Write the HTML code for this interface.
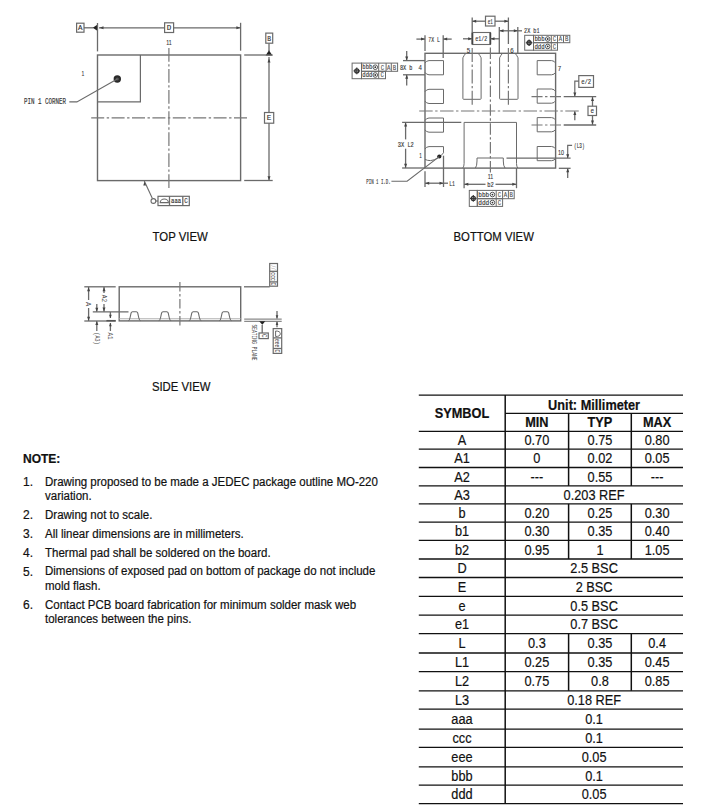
<!DOCTYPE html>
<html><head><meta charset="utf-8"><title>QFN package drawing</title>
<style>
html,body{margin:0;padding:0;background:#fff;}
body{width:701px;height:812px;overflow:hidden;}
svg{display:block;font-family:"Liberation Sans",sans-serif;}
</style></head><body>
<svg width="701" height="812" viewBox="0 0 701 812">
<g font-family="Liberation Sans, sans-serif">
<rect x="97.5" y="55" width="143.10" height="125.60" fill="none" stroke="#6a6a6a" stroke-width="1.4"/>
<path d="M140.4,55 V101.9 H97.5" fill="none" stroke="#6a6a6a" stroke-width="1.2"/>
<circle cx="117.3" cy="79" r="3.7" fill="#2a2a2a"/>
<circle cx="117.3" cy="79" r="1.6" fill="#555"/>
<path d="M117.3,79 L76.9,101.9 H69.3" fill="none" stroke="#6a6a6a" stroke-width="1.1"/>
<text x="45" y="104.01" font-size="8.2" text-anchor="middle" fill="#333" stroke="#333" stroke-width="0.15" font-family="Liberation Mono" font-weight="normal" textLength="42" lengthAdjust="spacingAndGlyphs">PIN 1 CORNER</text>
<text x="82.9" y="76.06" font-size="8" text-anchor="middle" fill="#333" stroke="#333" stroke-width="0.1" font-family="Liberation Sans" font-weight="normal" textLength="2.8" lengthAdjust="spacingAndGlyphs">1</text>
<line x1="91.2" y1="117.9" x2="247" y2="117.9" stroke="#777" stroke-width="1.2" stroke-dasharray="13.00 2.5 2.4 2.5"/>
<line x1="168.9" y1="48" x2="168.9" y2="188" stroke="#777" stroke-width="1.2" stroke-dasharray="13.66 2.5 2.4 2.5"/>
<text x="168.9" y="45.19" font-size="7.5" text-anchor="middle" fill="#333" stroke="#333" stroke-width="0.1" font-family="Liberation Sans" font-weight="normal" textLength="5.5" lengthAdjust="spacingAndGlyphs">11</text>
<rect x="76.6" y="23.2" width="7.40" height="9.00" fill="none" stroke="#6a6a6a" stroke-width="1.2"/>
<text x="80.3" y="30.18" font-size="7.5" text-anchor="middle" fill="#333" stroke="#333" stroke-width="0.15" font-family="Liberation Mono" font-weight="normal" textLength="4.5" lengthAdjust="spacingAndGlyphs">A</text>
<line x1="84" y1="27.8" x2="93.5" y2="27.8" stroke="#6a6a6a" stroke-width="1.3" />
<polygon points="92.8,27.8 97.6,24.6 97.6,31" fill="#222"/>
<line x1="97.5" y1="23" x2="97.5" y2="51.4" stroke="#6a6a6a" stroke-width="1.3" />
<line x1="240.6" y1="22.8" x2="240.6" y2="50.7" stroke="#6a6a6a" stroke-width="1.3" />
<line x1="99" y1="27.8" x2="164.6" y2="27.8" stroke="#6a6a6a" stroke-width="1.3" />
<line x1="173.6" y1="27.8" x2="240.6" y2="27.8" stroke="#6a6a6a" stroke-width="1.3" />
<polygon points="99.50,27.80 103.50,26.30 103.50,29.30" fill="#444"/>
<polygon points="240.40,27.80 236.40,26.30 236.40,29.30" fill="#444"/>
<rect x="164.6" y="22.8" width="9.00" height="9.70" fill="none" stroke="#6a6a6a" stroke-width="1.2"/>
<text x="169.1" y="30.18" font-size="7.5" text-anchor="middle" fill="#333" stroke="#333" stroke-width="0.15" font-family="Liberation Mono" font-weight="normal" textLength="4.5" lengthAdjust="spacingAndGlyphs">D</text>
<rect x="265.8" y="33.1" width="6.90" height="10.10" fill="none" stroke="#6a6a6a" stroke-width="1.2"/>
<text x="269.25" y="40.51" font-size="7.0" text-anchor="middle" fill="#333" stroke="#333" stroke-width="0.15" font-family="Liberation Mono" font-weight="normal" textLength="3.8" lengthAdjust="spacingAndGlyphs">B</text>
<line x1="269" y1="43.2" x2="269" y2="51" stroke="#6a6a6a" stroke-width="1.3" />
<polygon points="269,50.3 265.6,55.4 272.4,55.4" fill="#222"/>
<line x1="244.2" y1="55" x2="272.7" y2="55" stroke="#6a6a6a" stroke-width="1.3" />
<line x1="269" y1="57" x2="269" y2="112.5" stroke="#6a6a6a" stroke-width="1.3" />
<line x1="269" y1="123.2" x2="269" y2="180.5" stroke="#6a6a6a" stroke-width="1.3" />
<polygon points="269.00,58.50 267.50,62.50 270.50,62.50" fill="#444"/>
<polygon points="269.00,180.30 267.50,176.30 270.50,176.30" fill="#444"/>
<rect x="264.5" y="112.5" width="9.20" height="10.70" fill="none" stroke="#6a6a6a" stroke-width="1.2"/>
<text x="269.1" y="120.38" font-size="7.5" text-anchor="middle" fill="#333" stroke="#333" stroke-width="0.15" font-family="Liberation Mono" font-weight="normal" textLength="4.5" lengthAdjust="spacingAndGlyphs">E</text>
<line x1="244.2" y1="180.5" x2="272.7" y2="180.5" stroke="#6a6a6a" stroke-width="1.3" />
<line x1="144.3" y1="181" x2="152.4" y2="198.6" stroke="#6a6a6a" stroke-width="1.1" />
<polygon points="144.60,181.60 143.30,185.60 145.90,185.60" fill="#444"/>
<circle cx="153.4" cy="201" r="2.4" fill="none" stroke="#6a6a6a" stroke-width="1.1"/>
<line x1="155.8" y1="201" x2="158" y2="201" stroke="#6a6a6a" stroke-width="1.1" />
<rect x="158" y="196.3" width="31.30" height="9.30" fill="none" stroke="#6a6a6a" stroke-width="1.2"/>
<line x1="169.5" y1="196.3" x2="169.5" y2="205.6" stroke="#6a6a6a" stroke-width="1.3" />
<line x1="182.8" y1="196.3" x2="182.8" y2="205.6" stroke="#6a6a6a" stroke-width="1.3" />
<path d="M160.2,202.6 A4.1,3.6 0 0 1 168.4,202.6 Z" fill="none" stroke="#6a6a6a" stroke-width="1.1"/>
<text x="176.1" y="203.15" font-size="6.5" text-anchor="middle" fill="#333" stroke="#333" stroke-width="0.15" font-family="Liberation Mono" font-weight="normal" textLength="10" lengthAdjust="spacingAndGlyphs">aaa</text>
<text x="186" y="203.31" font-size="7.0" text-anchor="middle" fill="#333" stroke="#333" stroke-width="0.15" font-family="Liberation Mono" font-weight="normal" textLength="3.5" lengthAdjust="spacingAndGlyphs">C</text>
<rect x="425" y="53.3" width="130.60" height="114.80" fill="none" stroke="#6a6a6a" stroke-width="1.4"/>
<path d="M425,63.00 Q426.2,60.80 429,60.60 H443.5 V74.80 H429 Q426.2,74.60 425,72.40" fill="none" stroke="#6a6a6a" stroke-width="1.0"/>
<path d="M425,91.70 Q426.2,89.50 429,89.30 H443.5 V103.50 H429 Q426.2,103.30 425,101.10" fill="none" stroke="#6a6a6a" stroke-width="1.0"/>
<path d="M425,120.40 Q426.2,118.20 429,118.00 H443.5 V132.20 H429 Q426.2,132.00 425,129.80" fill="none" stroke="#6a6a6a" stroke-width="1.0"/>
<path d="M425,149 Q426.2,146.8 429,146.6 H443.5 V152.8 Q438.5,159.6 430.5,160.6 Q427.2,160.6 425,159.4" fill="none" stroke="#6a6a6a" stroke-width="1.0"/>
<path d="M555.6,63.00 Q554.4,60.80 551.6,60.60 H537.2 V74.80 H551.6 Q554.4,74.60 555.6,72.40" fill="none" stroke="#6a6a6a" stroke-width="1.0"/>
<path d="M555.6,91.40 Q554.4,89.20 551.6,89.00 H537.2 V103.20 H551.6 Q554.4,103.00 555.6,100.80" fill="none" stroke="#6a6a6a" stroke-width="1.0"/>
<path d="M555.6,120.00 Q554.4,117.80 551.6,117.60 H537.2 V131.80 H551.6 Q554.4,131.60 555.6,129.40" fill="none" stroke="#6a6a6a" stroke-width="1.0"/>
<path d="M555.6,148.90 Q554.4,146.70 551.6,146.50 H537.2 V160.70 H551.6 Q554.4,160.50 555.6,158.30" fill="none" stroke="#6a6a6a" stroke-width="1.0"/>
<path d="M465.80,53.3 Q464.10,55.2 462.90,57.8 V98.5 Q462.90,99.3 463.70,99.3 H480.30 Q481.10,99.3 481.10,98.5 V57.8 Q479.90,55.2 478.20,53.3" fill="none" stroke="#6a6a6a" stroke-width="1.0"/>
<path d="M502.50,53.3 Q500.80,55.2 499.60,57.8 V98.5 Q499.60,99.3 500.40,99.3 H517.20 Q518.00,99.3 518.00,98.5 V57.8 Q516.80,55.2 515.10,53.3" fill="none" stroke="#6a6a6a" stroke-width="1.0"/>
<path d="M462.8,168 Q464.1,166.5 464.1,163.5 V122.4 H516.5 V163.5 Q516.5,166.5 517.8,168" fill="none" stroke="#6a6a6a" stroke-width="1.0"/>
<path d="M475.4,168 Q477,166 477,161 V158 H503.3 V161 Q503.3,166 505,168" fill="none" stroke="#6a6a6a" stroke-width="1.0"/>
<line x1="419.2" y1="111" x2="578.8" y2="111" stroke="#777" stroke-width="1.2" stroke-dasharray="13.47 2.5 2.4 2.5"/>
<line x1="490.4" y1="47.6" x2="490.4" y2="172.5" stroke="#777" stroke-width="1.2" stroke-dasharray="11.50 2.5 2.4 2.5"/>
<line x1="472.2" y1="48" x2="472.2" y2="104.8" stroke="#777" stroke-width="1.2" stroke-dasharray="14.00 2.5 2.4 2.5"/>
<line x1="508.4" y1="48" x2="508.4" y2="104.8" stroke="#777" stroke-width="1.2" stroke-dasharray="14.00 2.5 2.4 2.5"/>
<line x1="531.5" y1="96.6" x2="561" y2="96.6" stroke="#777" stroke-width="1.2" stroke-dasharray="11.05 2.5 2.4 2.5"/>
<line x1="563.7" y1="96.6" x2="596.2" y2="96.6" stroke="#6a6a6a" stroke-width="1.3" />
<line x1="531.5" y1="125" x2="561" y2="125" stroke="#777" stroke-width="1.2" stroke-dasharray="11.05 2.5 2.4 2.5"/>
<line x1="563.7" y1="125" x2="596.2" y2="125" stroke="#6a6a6a" stroke-width="1.3" />
<line x1="425" y1="35.2" x2="425" y2="51" stroke="#6a6a6a" stroke-width="1.3" />
<line x1="443.2" y1="35.2" x2="443.2" y2="58" stroke="#6a6a6a" stroke-width="1.3" />
<line x1="416.4" y1="39.1" x2="425" y2="39.1" stroke="#6a6a6a" stroke-width="1.3" />
<polygon points="425.00,39.10 421.00,37.60 421.00,40.60" fill="#444"/>
<line x1="443.2" y1="39.1" x2="451.7" y2="39.1" stroke="#6a6a6a" stroke-width="1.3" />
<polygon points="443.20,39.10 447.20,37.60 447.20,40.60" fill="#444"/>
<text x="434.1" y="41.58" font-size="7.5" text-anchor="middle" fill="#333" stroke="#333" stroke-width="0.15" font-family="Liberation Mono" font-weight="normal" textLength="11.5" lengthAdjust="spacingAndGlyphs">7X&#160;L</text>
<line x1="403" y1="60.6" x2="425" y2="60.6" stroke="#6a6a6a" stroke-width="1.3" />
<line x1="403" y1="74.8" x2="425" y2="74.8" stroke="#6a6a6a" stroke-width="1.3" />
<line x1="406.7" y1="50.9" x2="406.7" y2="60.6" stroke="#6a6a6a" stroke-width="1.3" />
<polygon points="406.70,60.60 405.20,56.60 408.20,56.60" fill="#444"/>
<line x1="406.7" y1="85.4" x2="406.7" y2="74.8" stroke="#6a6a6a" stroke-width="1.3" />
<polygon points="406.70,74.80 405.20,78.80 408.20,78.80" fill="#444"/>
<text x="400" y="70.17" font-size="7.5" text-anchor="start" fill="#333" stroke="#333" stroke-width="0.15" font-family="Liberation Mono" font-weight="normal" textLength="12.5" lengthAdjust="spacingAndGlyphs">8X&#160;b</text>
<text x="420.3" y="70.39" font-size="7.5" text-anchor="middle" fill="#333" stroke="#333" stroke-width="0.1" font-family="Liberation Sans" font-weight="normal" textLength="3.4" lengthAdjust="spacingAndGlyphs">4</text>
<rect x="352.1" y="63.1" width="9.40" height="15.60" fill="none" stroke="#6a6a6a" stroke-width="1.0"/>
<circle cx="356.80" cy="70.90" r="2.0" fill="none" stroke="#333" stroke-width="1.3"/>
<line x1="353.5" y1="70.9" x2="360.1" y2="70.9" stroke="#333" stroke-width="1.1" />
<line x1="356.8" y1="67.60000000000001" x2="356.8" y2="74.2" stroke="#333" stroke-width="1.1" />
<rect x="361.5" y="63.1" width="36.10" height="8.20" fill="none" stroke="#6a6a6a" stroke-width="1.0"/>
<line x1="378.7" y1="63.1" x2="378.7" y2="71.3" stroke="#6a6a6a" stroke-width="1.0" />
<line x1="386.1" y1="63.1" x2="386.1" y2="71.3" stroke="#6a6a6a" stroke-width="1.0" />
<line x1="391.3" y1="63.1" x2="391.3" y2="71.3" stroke="#6a6a6a" stroke-width="1.0" />
<text x="367.348" y="69.34" font-size="6.5" text-anchor="middle" fill="#333" stroke="#333" stroke-width="0.15" font-family="Liberation Mono" font-weight="normal" textLength="9.975999999999992" lengthAdjust="spacingAndGlyphs">bbb</text>
<circle cx="375.26" cy="67.20" r="2.3" fill="none" stroke="#555" stroke-width="1.0"/>
<circle cx="375.26" cy="67.20" r="0.9" fill="#333"/>
<text x="382.4" y="69.51" font-size="7" text-anchor="middle" fill="#555" stroke="#555" stroke-width="0.15" font-family="Liberation Mono" font-weight="normal" textLength="3.4" lengthAdjust="spacingAndGlyphs">C</text>
<text x="388.70000000000005" y="69.51" font-size="7" text-anchor="middle" fill="#555" stroke="#555" stroke-width="0.15" font-family="Liberation Mono" font-weight="normal" textLength="3.4" lengthAdjust="spacingAndGlyphs">A</text>
<text x="394.45000000000005" y="69.51" font-size="7" text-anchor="middle" fill="#555" stroke="#555" stroke-width="0.15" font-family="Liberation Mono" font-weight="normal" textLength="3.4" lengthAdjust="spacingAndGlyphs">B</text>
<rect x="361.5" y="71.3" width="24.00" height="7.40" fill="none" stroke="#6a6a6a" stroke-width="1.0"/>
<line x1="378.7" y1="71.3" x2="378.7" y2="78.7" stroke="#6a6a6a" stroke-width="1.0" />
<text x="367.348" y="77.14" font-size="6.5" text-anchor="middle" fill="#333" stroke="#333" stroke-width="0.15" font-family="Liberation Mono" font-weight="normal" textLength="9.975999999999992" lengthAdjust="spacingAndGlyphs">ddd</text>
<circle cx="375.26" cy="75.00" r="2.3" fill="none" stroke="#555" stroke-width="1.0"/>
<circle cx="375.26" cy="75.00" r="0.9" fill="#333"/>
<text x="382.1" y="77.31" font-size="7" text-anchor="middle" fill="#555" stroke="#555" stroke-width="0.15" font-family="Liberation Mono" font-weight="normal" textLength="3.4" lengthAdjust="spacingAndGlyphs">C</text>
<rect x="524.7" y="35.3" width="8.80" height="14.90" fill="none" stroke="#6a6a6a" stroke-width="1.0"/>
<circle cx="529.10" cy="42.75" r="2.0" fill="none" stroke="#333" stroke-width="1.3"/>
<line x1="525.8000000000001" y1="42.75" x2="532.4" y2="42.75" stroke="#333" stroke-width="1.1" />
<line x1="529.1" y1="39.45" x2="529.1" y2="46.05" stroke="#333" stroke-width="1.1" />
<rect x="533.5" y="35.3" width="36.30" height="7.40" fill="none" stroke="#6a6a6a" stroke-width="1.0"/>
<line x1="551.3" y1="35.3" x2="551.3" y2="42.7" stroke="#6a6a6a" stroke-width="1.0" />
<line x1="557.5" y1="35.3" x2="557.5" y2="42.7" stroke="#6a6a6a" stroke-width="1.0" />
<line x1="563.5" y1="35.3" x2="563.5" y2="42.7" stroke="#6a6a6a" stroke-width="1.0" />
<text x="539.552" y="41.15" font-size="6.5" text-anchor="middle" fill="#333" stroke="#333" stroke-width="0.15" font-family="Liberation Mono" font-weight="normal" textLength="10.323999999999973" lengthAdjust="spacingAndGlyphs">bbb</text>
<circle cx="547.74" cy="39.00" r="2.3" fill="none" stroke="#555" stroke-width="1.0"/>
<circle cx="547.74" cy="39.00" r="0.9" fill="#333"/>
<text x="554.4" y="41.31" font-size="7" text-anchor="middle" fill="#555" stroke="#555" stroke-width="0.15" font-family="Liberation Mono" font-weight="normal" textLength="3.4" lengthAdjust="spacingAndGlyphs">C</text>
<text x="560.5" y="41.31" font-size="7" text-anchor="middle" fill="#555" stroke="#555" stroke-width="0.15" font-family="Liberation Mono" font-weight="normal" textLength="3.4" lengthAdjust="spacingAndGlyphs">A</text>
<text x="566.65" y="41.31" font-size="7" text-anchor="middle" fill="#555" stroke="#555" stroke-width="0.15" font-family="Liberation Mono" font-weight="normal" textLength="3.4" lengthAdjust="spacingAndGlyphs">B</text>
<rect x="533.5" y="42.7" width="24.00" height="7.50" fill="none" stroke="#6a6a6a" stroke-width="1.0"/>
<line x1="551.3" y1="42.7" x2="551.3" y2="50.2" stroke="#6a6a6a" stroke-width="1.0" />
<text x="539.552" y="48.60" font-size="6.5" text-anchor="middle" fill="#333" stroke="#333" stroke-width="0.15" font-family="Liberation Mono" font-weight="normal" textLength="10.323999999999973" lengthAdjust="spacingAndGlyphs">ddd</text>
<circle cx="547.74" cy="46.45" r="2.3" fill="none" stroke="#555" stroke-width="1.0"/>
<circle cx="547.74" cy="46.45" r="0.9" fill="#333"/>
<text x="554.4" y="48.76" font-size="7" text-anchor="middle" fill="#555" stroke="#555" stroke-width="0.15" font-family="Liberation Mono" font-weight="normal" textLength="3.4" lengthAdjust="spacingAndGlyphs">C</text>
<rect x="469.3" y="190.4" width="8.00" height="16.00" fill="none" stroke="#6a6a6a" stroke-width="1.0"/>
<circle cx="473.30" cy="198.40" r="2.0" fill="none" stroke="#333" stroke-width="1.3"/>
<line x1="470.0" y1="198.4" x2="476.6" y2="198.4" stroke="#333" stroke-width="1.1" />
<line x1="473.3" y1="195.1" x2="473.3" y2="201.70000000000002" stroke="#333" stroke-width="1.1" />
<rect x="477.3" y="190.4" width="36.90" height="8.30" fill="none" stroke="#6a6a6a" stroke-width="1.0"/>
<line x1="496.2" y1="190.4" x2="496.2" y2="198.7" stroke="#6a6a6a" stroke-width="1.0" />
<line x1="502.6" y1="190.4" x2="502.6" y2="198.7" stroke="#6a6a6a" stroke-width="1.0" />
<line x1="508.4" y1="190.4" x2="508.4" y2="198.7" stroke="#6a6a6a" stroke-width="1.0" />
<text x="483.726" y="196.70" font-size="6.5" text-anchor="middle" fill="#333" stroke="#333" stroke-width="0.15" font-family="Liberation Mono" font-weight="normal" textLength="10.961999999999986" lengthAdjust="spacingAndGlyphs">bbb</text>
<circle cx="492.42" cy="194.55" r="2.3" fill="none" stroke="#555" stroke-width="1.0"/>
<circle cx="492.42" cy="194.55" r="0.9" fill="#333"/>
<text x="499.4" y="196.86" font-size="7" text-anchor="middle" fill="#555" stroke="#555" stroke-width="0.15" font-family="Liberation Mono" font-weight="normal" textLength="3.4" lengthAdjust="spacingAndGlyphs">C</text>
<text x="505.5" y="196.86" font-size="7" text-anchor="middle" fill="#555" stroke="#555" stroke-width="0.15" font-family="Liberation Mono" font-weight="normal" textLength="3.4" lengthAdjust="spacingAndGlyphs">A</text>
<text x="511.3" y="196.86" font-size="7" text-anchor="middle" fill="#555" stroke="#555" stroke-width="0.15" font-family="Liberation Mono" font-weight="normal" textLength="3.4" lengthAdjust="spacingAndGlyphs">B</text>
<rect x="477.3" y="198.7" width="25.30" height="7.70" fill="none" stroke="#6a6a6a" stroke-width="1.0"/>
<line x1="496.2" y1="198.7" x2="496.2" y2="206.4" stroke="#6a6a6a" stroke-width="1.0" />
<text x="483.726" y="204.70" font-size="6.5" text-anchor="middle" fill="#333" stroke="#333" stroke-width="0.15" font-family="Liberation Mono" font-weight="normal" textLength="10.961999999999986" lengthAdjust="spacingAndGlyphs">ddd</text>
<circle cx="492.42" cy="202.55" r="2.3" fill="none" stroke="#555" stroke-width="1.0"/>
<circle cx="492.42" cy="202.55" r="0.9" fill="#333"/>
<text x="499.4" y="204.86" font-size="7" text-anchor="middle" fill="#555" stroke="#555" stroke-width="0.15" font-family="Liberation Mono" font-weight="normal" textLength="3.4" lengthAdjust="spacingAndGlyphs">C</text>
<line x1="472.2" y1="17.5" x2="472.2" y2="32.5" stroke="#6a6a6a" stroke-width="1.3" />
<line x1="508.4" y1="17.5" x2="508.4" y2="44" stroke="#6a6a6a" stroke-width="1.3" />
<line x1="472.2" y1="21.2" x2="485.5" y2="21.2" stroke="#6a6a6a" stroke-width="1.3" />
<line x1="495" y1="21.2" x2="508.4" y2="21.2" stroke="#6a6a6a" stroke-width="1.3" />
<polygon points="472.20,21.20 476.20,19.70 476.20,22.70" fill="#444"/>
<polygon points="508.40,21.20 504.40,19.70 504.40,22.70" fill="#444"/>
<rect x="485.5" y="16.2" width="9.50" height="9.80" fill="none" stroke="#6a6a6a" stroke-width="1.2"/>
<text x="490.25" y="23.58" font-size="7.5" text-anchor="middle" fill="#333" stroke="#333" stroke-width="0.15" font-family="Liberation Mono" font-weight="normal" textLength="5" lengthAdjust="spacingAndGlyphs">e1</text>
<rect x="472.2" y="32.5" width="18.30" height="12.00" fill="none" stroke="#6a6a6a" stroke-width="1.1"/>
<line x1="472.4" y1="32.8" x2="472.4" y2="44.2" stroke="#444" stroke-width="1.8" />
<line x1="490.3" y1="32.8" x2="490.3" y2="44.2" stroke="#444" stroke-width="1.8" />
<text x="481.3" y="41.08" font-size="7.5" text-anchor="middle" fill="#333" stroke="#333" stroke-width="0.15" font-family="Liberation Mono" font-weight="normal" textLength="12" lengthAdjust="spacingAndGlyphs">e1/2</text>
<line x1="463" y1="38.8" x2="472.2" y2="38.8" stroke="#6a6a6a" stroke-width="1.3" />
<polygon points="472.20,38.80 468.20,37.30 468.20,40.30" fill="#444"/>
<line x1="490.5" y1="38.8" x2="499.5" y2="38.8" stroke="#6a6a6a" stroke-width="1.3" />
<polygon points="490.50,38.80 494.50,37.30 494.50,40.30" fill="#444"/>
<line x1="499.3" y1="27" x2="499.3" y2="53.3" stroke="#6a6a6a" stroke-width="1.3" />
<line x1="517.8" y1="27" x2="517.8" y2="53.3" stroke="#6a6a6a" stroke-width="1.3" />
<line x1="499.3" y1="30.8" x2="522" y2="30.8" stroke="#6a6a6a" stroke-width="1.3" />
<polygon points="499.50,30.80 503.50,29.30 503.50,32.30" fill="#444"/>
<polygon points="517.80,30.80 513.80,29.30 513.80,32.30" fill="#444"/>
<text x="524.1" y="33.48" font-size="7.5" text-anchor="start" fill="#333" stroke="#333" stroke-width="0.15" font-family="Liberation Mono" font-weight="normal" textLength="15.4" lengthAdjust="spacingAndGlyphs">2X&#160;b1</text>
<text x="468.5" y="52.69" font-size="7.5" text-anchor="middle" fill="#333" stroke="#333" stroke-width="0.1" font-family="Liberation Sans" font-weight="normal" textLength="3.4" lengthAdjust="spacingAndGlyphs">5</text>
<text x="512" y="52.69" font-size="7.5" text-anchor="middle" fill="#333" stroke="#333" stroke-width="0.1" font-family="Liberation Sans" font-weight="normal" textLength="3.4" lengthAdjust="spacingAndGlyphs">6</text>
<text x="559.5" y="71.28" font-size="7.5" text-anchor="middle" fill="#333" stroke="#333" stroke-width="0.1" font-family="Liberation Sans" font-weight="normal" textLength="3.4" lengthAdjust="spacingAndGlyphs">7</text>
<text x="561" y="155.09" font-size="7.5" text-anchor="middle" fill="#333" stroke="#333" stroke-width="0.1" font-family="Liberation Sans" font-weight="normal" textLength="6" lengthAdjust="spacingAndGlyphs">10</text>
<text x="420.6" y="157.59" font-size="7.5" text-anchor="middle" fill="#333" stroke="#333" stroke-width="0.1" font-family="Liberation Sans" font-weight="normal" textLength="2.6" lengthAdjust="spacingAndGlyphs">1</text>
<text x="490.4" y="179.28" font-size="7.5" text-anchor="middle" fill="#333" stroke="#333" stroke-width="0.1" font-family="Liberation Sans" font-weight="normal" textLength="5.5" lengthAdjust="spacingAndGlyphs">11</text>
<rect x="578.8" y="75.6" width="14.70" height="11.80" fill="none" stroke="#6a6a6a" stroke-width="1.2"/>
<text x="586.15" y="83.97" font-size="7.5" text-anchor="middle" fill="#333" stroke="#333" stroke-width="0.15" font-family="Liberation Mono" font-weight="normal" textLength="10" lengthAdjust="spacingAndGlyphs">e/2</text>
<path d="M578.8,81.2 H574.8 V96.4" fill="none" stroke="#6a6a6a" stroke-width="1.2"/>
<polygon points="574.80,96.60 573.30,92.60 576.30,92.60" fill="#444"/>
<line x1="574.8" y1="120.2" x2="574.8" y2="111.5" stroke="#6a6a6a" stroke-width="1.3" />
<polygon points="574.80,111.10 573.30,115.10 576.30,115.10" fill="#444"/>
<line x1="592.5" y1="96.6" x2="592.5" y2="106.2" stroke="#6a6a6a" stroke-width="1.3" />
<line x1="592.5" y1="115.5" x2="592.5" y2="125" stroke="#6a6a6a" stroke-width="1.3" />
<polygon points="592.50,97.00 591.00,101.00 594.00,101.00" fill="#444"/>
<polygon points="592.50,124.60 591.00,120.60 594.00,120.60" fill="#444"/>
<rect x="588" y="106.2" width="8.50" height="9.30" fill="none" stroke="#6a6a6a" stroke-width="1.2"/>
<text x="592.25" y="113.38" font-size="7.5" text-anchor="middle" fill="#333" stroke="#333" stroke-width="0.15" font-family="Liberation Mono" font-weight="normal" textLength="3.5" lengthAdjust="spacingAndGlyphs">e</text>
<line x1="506.5" y1="158.2" x2="570.6" y2="158.2" stroke="#6a6a6a" stroke-width="1.3" />
<path d="M572.1,145.4 H567.7 V158" fill="none" stroke="#6a6a6a" stroke-width="1.2"/>
<polygon points="567.70,158.20 566.20,154.20 569.20,154.20" fill="#444"/>
<text x="579.3" y="147.67" font-size="7.5" text-anchor="middle" fill="#333" stroke="#333" stroke-width="0.15" font-family="Liberation Mono" font-weight="normal" textLength="10.5" lengthAdjust="spacingAndGlyphs">(L3)</text>
<line x1="558.8" y1="168.3" x2="570.6" y2="168.3" stroke="#6a6a6a" stroke-width="1.3" />
<line x1="567.7" y1="177.9" x2="567.7" y2="168.5" stroke="#6a6a6a" stroke-width="1.3" />
<polygon points="567.70,168.30 566.20,172.30 569.20,172.30" fill="#444"/>
<line x1="402.1" y1="122.4" x2="461.3" y2="122.4" stroke="#6a6a6a" stroke-width="1.3" />
<line x1="402.1" y1="168" x2="425" y2="168" stroke="#6a6a6a" stroke-width="1.3" />
<line x1="405.6" y1="122.4" x2="405.6" y2="139.4" stroke="#6a6a6a" stroke-width="1.3" />
<line x1="405.6" y1="148.7" x2="405.6" y2="168" stroke="#6a6a6a" stroke-width="1.3" />
<polygon points="405.60,122.60 404.10,126.60 407.10,126.60" fill="#444"/>
<polygon points="405.60,167.80 404.10,163.80 407.10,163.80" fill="#444"/>
<text x="405.8" y="147.17" font-size="7.5" text-anchor="middle" fill="#333" stroke="#333" stroke-width="0.15" font-family="Liberation Mono" font-weight="normal" textLength="16" lengthAdjust="spacingAndGlyphs">3X&#160;L2</text>
<circle cx="439.3" cy="156.5" r="2.1" fill="#222"/>
<path d="M439.2,156.6 L407.1,181.3 H391.4" fill="none" stroke="#6a6a6a" stroke-width="1.1"/>
<text x="378.5" y="184.07" font-size="7.5" text-anchor="middle" fill="#333" stroke="#333" stroke-width="0.15" font-family="Liberation Mono" font-weight="normal" textLength="24.3" lengthAdjust="spacingAndGlyphs">PIN 1 I.D.</text>
<line x1="425" y1="171.3" x2="425" y2="187" stroke="#6a6a6a" stroke-width="1.3" />
<line x1="443.5" y1="155.7" x2="443.5" y2="187" stroke="#6a6a6a" stroke-width="1.3" />
<line x1="425" y1="183.2" x2="448" y2="183.2" stroke="#6a6a6a" stroke-width="1.3" />
<polygon points="425.20,183.20 429.20,181.70 429.20,184.70" fill="#444"/>
<polygon points="443.50,183.20 439.50,181.70 439.50,184.70" fill="#444"/>
<text x="452" y="185.67" font-size="7.5" text-anchor="middle" fill="#333" stroke="#333" stroke-width="0.15" font-family="Liberation Mono" font-weight="normal" textLength="5.7" lengthAdjust="spacingAndGlyphs">L1</text>
<line x1="464.1" y1="168" x2="464.1" y2="188.2" stroke="#6a6a6a" stroke-width="1.3" />
<line x1="516.5" y1="168" x2="516.5" y2="188.2" stroke="#6a6a6a" stroke-width="1.3" />
<line x1="464.1" y1="184.3" x2="485.5" y2="184.3" stroke="#6a6a6a" stroke-width="1.3" />
<line x1="495.5" y1="184.3" x2="516.5" y2="184.3" stroke="#6a6a6a" stroke-width="1.3" />
<polygon points="464.30,184.30 468.30,182.80 468.30,185.80" fill="#444"/>
<polygon points="516.30,184.30 512.30,182.80 512.30,185.80" fill="#444"/>
<text x="490.45" y="186.78" font-size="7.5" text-anchor="middle" fill="#333" stroke="#333" stroke-width="0.15" font-family="Liberation Mono" font-weight="normal" textLength="6.5" lengthAdjust="spacingAndGlyphs">b2</text>
<rect x="119.2" y="286.8" width="121.50" height="34.10" fill="none" stroke="#6a6a6a" stroke-width="1.4"/>
<line x1="119.2" y1="318.7" x2="240.7" y2="318.7" stroke="#b0b0b0" stroke-width="1.1" />
<path d="M128.20,320.8 Q129.50,320.6 130.10,317.5 L131.10,313 Q131.50,311.8 132.50,311.8 H136.30 Q137.30,311.8 137.70,313 L138.70,317.5 Q139.30,320.6 140.60,320.8" fill="none" stroke="#6a6a6a" stroke-width="1.1"/>
<path d="M158.70,320.8 Q160.00,320.6 160.60,317.5 L161.60,313 Q162.00,311.8 163.00,311.8 H166.80 Q167.80,311.8 168.20,313 L169.20,317.5 Q169.80,320.6 171.10,320.8" fill="none" stroke="#6a6a6a" stroke-width="1.1"/>
<path d="M188.90,320.8 Q190.20,320.6 190.80,317.5 L191.80,313 Q192.20,311.8 193.20,311.8 H197.00 Q198.00,311.8 198.40,313 L199.40,317.5 Q200.00,320.6 201.30,320.8" fill="none" stroke="#6a6a6a" stroke-width="1.1"/>
<path d="M219.20,320.8 Q220.50,320.6 221.10,317.5 L222.10,313 Q222.50,311.8 223.50,311.8 H227.30 Q228.30,311.8 228.70,313 L229.70,317.5 Q230.30,320.6 231.60,320.8" fill="none" stroke="#6a6a6a" stroke-width="1.1"/>
<line x1="179.9" y1="282" x2="179.9" y2="325.6" stroke="#777" stroke-width="1.2" stroke-dasharray="9.60 2.5 2.4 2.5"/>
<line x1="84.3" y1="286.8" x2="115.7" y2="286.8" stroke="#6a6a6a" stroke-width="1.3" />
<line x1="84.3" y1="321" x2="115.7" y2="321" stroke="#6a6a6a" stroke-width="1.3" />
<line x1="92.8" y1="311.8" x2="128.5" y2="311.8" stroke="#6a6a6a" stroke-width="1.3" />
<line x1="88.6" y1="287" x2="88.6" y2="300" stroke="#6a6a6a" stroke-width="1.3" />
<line x1="88.6" y1="308" x2="88.6" y2="321" stroke="#6a6a6a" stroke-width="1.3" />
<polygon points="88.60,287.20 87.10,291.20 90.10,291.20" fill="#444"/>
<polygon points="88.60,320.80 87.10,316.80 90.10,316.80" fill="#444"/>
<text x="88.6" y="306.31" font-size="7.0" text-anchor="middle" fill="#4a4a4a" stroke="#4a4a4a" stroke-width="0" font-family="Liberation Mono" font-weight="normal" textLength="4.2" lengthAdjust="spacingAndGlyphs" transform="rotate(90 88.6 304)">A</text>
<line x1="104" y1="287" x2="104" y2="293" stroke="#6a6a6a" stroke-width="1.3" />
<line x1="104" y1="304" x2="104" y2="311.8" stroke="#6a6a6a" stroke-width="1.3" />
<polygon points="104.00,287.20 102.50,291.20 105.50,291.20" fill="#444"/>
<polygon points="104.00,311.60 102.50,307.60 105.50,307.60" fill="#444"/>
<text x="104" y="300.81" font-size="7.0" text-anchor="middle" fill="#4a4a4a" stroke="#4a4a4a" stroke-width="0" font-family="Liberation Mono" font-weight="normal" textLength="7.5" lengthAdjust="spacingAndGlyphs" transform="rotate(90 104 298.5)">A2</text>
<line x1="96.8" y1="304" x2="96.8" y2="311.6" stroke="#6a6a6a" stroke-width="1.3" />
<polygon points="96.80,311.80 95.30,307.80 98.30,307.80" fill="#444"/>
<line x1="96.8" y1="331" x2="96.8" y2="321.2" stroke="#6a6a6a" stroke-width="1.3" />
<polygon points="96.80,321.00 95.30,325.00 98.30,325.00" fill="#444"/>
<text x="96.8" y="340.81" font-size="7.0" text-anchor="middle" fill="#4a4a4a" stroke="#4a4a4a" stroke-width="0" font-family="Liberation Mono" font-weight="normal" textLength="12" lengthAdjust="spacingAndGlyphs" transform="rotate(90 96.8 338.5)">(A3)</text>
<line x1="110.4" y1="312" x2="110.4" y2="318" stroke="#6a6a6a" stroke-width="1.3" />
<polygon points="110.40,318.30 109.10,314.80 111.70,314.80" fill="#444"/>
<line x1="110.4" y1="331" x2="110.4" y2="323" stroke="#6a6a6a" stroke-width="1.3" />
<polygon points="110.40,322.80 109.10,326.30 111.70,326.30" fill="#444"/>
<line x1="106.4" y1="320.7" x2="115.7" y2="320.7" stroke="#555" stroke-width="1.5" />
<text x="110.4" y="338.31" font-size="7.0" text-anchor="middle" fill="#4a4a4a" stroke="#4a4a4a" stroke-width="0" font-family="Liberation Mono" font-weight="normal" textLength="7" lengthAdjust="spacingAndGlyphs" transform="rotate(90 110.4 336)">A1</text>
<line x1="244" y1="286.8" x2="269.7" y2="286.8" stroke="#6a6a6a" stroke-width="1.3" />
<rect x="269.7" y="263.5" width="7.80" height="22.70" fill="none" stroke="#6a6a6a" stroke-width="1.2"/>
<line x1="269.7" y1="271.3" x2="277.5" y2="271.3" stroke="#6a6a6a" stroke-width="1.3" />
<line x1="269.7" y1="281.9" x2="277.5" y2="281.9" stroke="#6a6a6a" stroke-width="1.3" />
<text x="273.6" y="269.54" font-size="6.5" text-anchor="middle" fill="#4a4a4a" stroke="#4a4a4a" stroke-width="0" font-family="Liberation Mono" font-weight="normal" textLength="4.5" lengthAdjust="spacingAndGlyphs" transform="rotate(90 273.6 267.4)">//</text>
<text x="273.6" y="278.75" font-size="6.5" text-anchor="middle" fill="#4a4a4a" stroke="#4a4a4a" stroke-width="0" font-family="Liberation Mono" font-weight="normal" textLength="8.5" lengthAdjust="spacingAndGlyphs" transform="rotate(90 273.6 276.6)">ccc</text>
<text x="273.6" y="286.14" font-size="6.5" text-anchor="middle" fill="#4a4a4a" stroke="#4a4a4a" stroke-width="0" font-family="Liberation Mono" font-weight="normal" textLength="3" lengthAdjust="spacingAndGlyphs" transform="rotate(90 273.6 284)">C</text>
<line x1="244.2" y1="319.1" x2="281.7" y2="319.1" stroke="#8a8a8a" stroke-width="1.3" />
<line x1="244.2" y1="321.3" x2="281.7" y2="321.3" stroke="#8a8a8a" stroke-width="1.3" />
<polygon points="259.2,321.3 265.3,321.3 262.3,324.8" fill="#222"/>
<line x1="262.2" y1="325" x2="262.2" y2="333" stroke="#6a6a6a" stroke-width="1.3" />
<rect x="259" y="333" width="9.30" height="5.60" fill="none" stroke="#6a6a6a" stroke-width="1.2"/>
<text x="263.65" y="337.94" font-size="6.5" text-anchor="middle" fill="#4a4a4a" stroke="#4a4a4a" stroke-width="0" font-family="Liberation Mono" font-weight="normal" textLength="3.5" lengthAdjust="spacingAndGlyphs" transform="rotate(90 263.65 335.8)">C</text>
<text x="254.1" y="344.81" font-size="7.0" text-anchor="middle" fill="#4a4a4a" stroke="#4a4a4a" stroke-width="0" font-family="Liberation Mono" font-weight="normal" textLength="36" lengthAdjust="spacingAndGlyphs" transform="rotate(90 254.1 342.5)">SEATING PLANE</text>
<line x1="277" y1="311" x2="277" y2="318.5" stroke="#6a6a6a" stroke-width="1.3" />
<polygon points="277.00,318.70 275.70,315.20 278.30,315.20" fill="#444"/>
<line x1="277" y1="327.2" x2="277" y2="321.8" stroke="#6a6a6a" stroke-width="1.3" />
<polygon points="277.00,321.60 275.70,325.10 278.30,325.10" fill="#444"/>
<rect x="273.2" y="328.6" width="8.50" height="24.80" fill="none" stroke="#6a6a6a" stroke-width="1.2"/>
<line x1="273.2" y1="337.9" x2="281.7" y2="337.9" stroke="#6a6a6a" stroke-width="1.3" />
<line x1="273.2" y1="348.5" x2="281.7" y2="348.5" stroke="#6a6a6a" stroke-width="1.3" />
<path d="M275.6,331 V336.5 A4.7,2.75 0 0 0 275.6,331 Z" fill="none" stroke="#6a6a6a" stroke-width="1.0"/>
<text x="277.45" y="345.34" font-size="6.5" text-anchor="middle" fill="#4a4a4a" stroke="#4a4a4a" stroke-width="0" font-family="Liberation Mono" font-weight="normal" textLength="8.5" lengthAdjust="spacingAndGlyphs" transform="rotate(90 277.45 343.2)">eee</text>
<text x="277.45" y="353.14" font-size="6.5" text-anchor="middle" fill="#4a4a4a" stroke="#4a4a4a" stroke-width="0" font-family="Liberation Mono" font-weight="normal" textLength="3" lengthAdjust="spacingAndGlyphs" transform="rotate(90 277.45 351)">C</text>
</g>
<g font-family="Liberation Sans, sans-serif">
<text x="180.2" y="240.9" font-size="12.3" text-anchor="middle" font-weight="normal" fill="#111" stroke="#111" stroke-width="0.2" textLength="55.3" lengthAdjust="spacingAndGlyphs">TOP VIEW</text>
<text x="493.7" y="240.9" font-size="12.3" text-anchor="middle" font-weight="normal" fill="#111" stroke="#111" stroke-width="0.2" textLength="80.3" lengthAdjust="spacingAndGlyphs">BOTTOM VIEW</text>
<text x="181.2" y="390.5" font-size="12.3" text-anchor="middle" font-weight="normal" fill="#111" stroke="#111" stroke-width="0.2" textLength="58.6" lengthAdjust="spacingAndGlyphs">SIDE VIEW</text>
<text x="23" y="463.3" font-size="12" text-anchor="start" font-weight="bold" fill="#111" stroke="#111" stroke-width="0.2">NOTE:</text>
<text x="23" y="486.0" font-size="12" text-anchor="start" font-weight="normal" fill="#111" stroke="#111" stroke-width="0.2">1.</text>
<g transform="matrix(0.958,0,0,1,1.890,0)">
<text x="45.0" y="486.0" font-size="12" text-anchor="start" font-weight="normal" fill="#111" stroke="#111" stroke-width="0.2">Drawing proposed to be made a JEDEC package outline MO-220</text>
</g>
<g transform="matrix(0.958,0,0,1,1.890,0)">
<text x="45.0" y="500.2" font-size="12" text-anchor="start" font-weight="normal" fill="#111" stroke="#111" stroke-width="0.2">variation.</text>
</g>
<text x="23" y="519.2" font-size="12" text-anchor="start" font-weight="normal" fill="#111" stroke="#111" stroke-width="0.2">2.</text>
<g transform="matrix(0.958,0,0,1,1.890,0)">
<text x="45.0" y="519.2" font-size="12" text-anchor="start" font-weight="normal" fill="#111" stroke="#111" stroke-width="0.2">Drawing not to scale.</text>
</g>
<text x="23" y="538.2" font-size="12" text-anchor="start" font-weight="normal" fill="#111" stroke="#111" stroke-width="0.2">3.</text>
<g transform="matrix(0.958,0,0,1,1.890,0)">
<text x="45.0" y="538.2" font-size="12" text-anchor="start" font-weight="normal" fill="#111" stroke="#111" stroke-width="0.2">All linear dimensions are in millimeters.</text>
</g>
<text x="23" y="556.7" font-size="12" text-anchor="start" font-weight="normal" fill="#111" stroke="#111" stroke-width="0.2">4.</text>
<g transform="matrix(0.958,0,0,1,1.890,0)">
<text x="45.0" y="556.7" font-size="12" text-anchor="start" font-weight="normal" fill="#111" stroke="#111" stroke-width="0.2">Thermal pad shall be soldered on the board.</text>
</g>
<text x="23" y="575.5" font-size="12" text-anchor="start" font-weight="normal" fill="#111" stroke="#111" stroke-width="0.2">5.</text>
<g transform="matrix(0.958,0,0,1,1.890,0)">
<text x="45.0" y="575.5" font-size="12" text-anchor="start" font-weight="normal" fill="#111" stroke="#111" stroke-width="0.2">Dimensions of exposed pad on bottom of package do not include</text>
</g>
<g transform="matrix(0.958,0,0,1,1.890,0)">
<text x="45.0" y="589.8" font-size="12" text-anchor="start" font-weight="normal" fill="#111" stroke="#111" stroke-width="0.2">mold flash.</text>
</g>
<text x="23" y="608.6" font-size="12" text-anchor="start" font-weight="normal" fill="#111" stroke="#111" stroke-width="0.2">6.</text>
<g transform="matrix(0.958,0,0,1,1.890,0)">
<text x="45.0" y="608.6" font-size="12" text-anchor="start" font-weight="normal" fill="#111" stroke="#111" stroke-width="0.2">Contact PCB board fabrication for minimum solder mask web</text>
</g>
<g transform="matrix(0.958,0,0,1,1.890,0)">
<text x="45.0" y="623.2" font-size="12" text-anchor="start" font-weight="normal" fill="#111" stroke="#111" stroke-width="0.2">tolerances between the pins.</text>
</g>
<text x="462.0" y="445.15" font-size="15.2" text-anchor="middle" font-weight="normal" fill="#111" stroke="#111" stroke-width="0.2" transform="matrix(0.84,0,0,1,73.920,0)">A</text>
<text x="536.9" y="445.15" font-size="15.2" text-anchor="middle" font-weight="normal" fill="#111" stroke="#111" stroke-width="0.2" transform="matrix(0.84,0,0,1,85.904,0)">0.70</text>
<text x="599.95" y="445.15" font-size="15.2" text-anchor="middle" font-weight="normal" fill="#111" stroke="#111" stroke-width="0.2" transform="matrix(0.84,0,0,1,95.992,0)">0.75</text>
<text x="657.15" y="445.15" font-size="15.2" text-anchor="middle" font-weight="normal" fill="#111" stroke="#111" stroke-width="0.2" transform="matrix(0.84,0,0,1,105.144,0)">0.80</text>
<text x="462.0" y="463.25" font-size="15.2" text-anchor="middle" font-weight="normal" fill="#111" stroke="#111" stroke-width="0.2" transform="matrix(0.84,0,0,1,73.920,0)">A1</text>
<text x="536.9" y="463.25" font-size="15.2" text-anchor="middle" font-weight="normal" fill="#111" stroke="#111" stroke-width="0.2" transform="matrix(0.84,0,0,1,85.904,0)">0</text>
<text x="599.95" y="463.25" font-size="15.2" text-anchor="middle" font-weight="normal" fill="#111" stroke="#111" stroke-width="0.2" transform="matrix(0.84,0,0,1,95.992,0)">0.02</text>
<text x="657.15" y="463.25" font-size="15.2" text-anchor="middle" font-weight="normal" fill="#111" stroke="#111" stroke-width="0.2" transform="matrix(0.84,0,0,1,105.144,0)">0.05</text>
<text x="462.0" y="481.60" font-size="15.2" text-anchor="middle" font-weight="normal" fill="#111" stroke="#111" stroke-width="0.2" transform="matrix(0.84,0,0,1,73.920,0)">A2</text>
<text x="536.9" y="481.60" font-size="15.2" text-anchor="middle" font-weight="normal" fill="#111" stroke="#111" stroke-width="0.2" transform="matrix(0.84,0,0,1,85.904,0)">---</text>
<text x="599.95" y="481.60" font-size="15.2" text-anchor="middle" font-weight="normal" fill="#111" stroke="#111" stroke-width="0.2" transform="matrix(0.84,0,0,1,95.992,0)">0.55</text>
<text x="657.15" y="481.60" font-size="15.2" text-anchor="middle" font-weight="normal" fill="#111" stroke="#111" stroke-width="0.2" transform="matrix(0.84,0,0,1,105.144,0)">---</text>
<text x="462.0" y="499.80" font-size="15.2" text-anchor="middle" font-weight="normal" fill="#111" stroke="#111" stroke-width="0.2" transform="matrix(0.84,0,0,1,73.920,0)">A3</text>
<text x="594.1" y="499.80" font-size="15.2" text-anchor="middle" font-weight="normal" fill="#111" stroke="#111" stroke-width="0.2" transform="matrix(0.84,0,0,1,95.056,0)">0.203 REF</text>
<text x="462.0" y="517.90" font-size="15.2" text-anchor="middle" font-weight="normal" fill="#111" stroke="#111" stroke-width="0.2" transform="matrix(0.84,0,0,1,73.920,0)">b</text>
<text x="536.9" y="517.90" font-size="15.2" text-anchor="middle" font-weight="normal" fill="#111" stroke="#111" stroke-width="0.2" transform="matrix(0.84,0,0,1,85.904,0)">0.20</text>
<text x="599.95" y="517.90" font-size="15.2" text-anchor="middle" font-weight="normal" fill="#111" stroke="#111" stroke-width="0.2" transform="matrix(0.84,0,0,1,95.992,0)">0.25</text>
<text x="657.15" y="517.90" font-size="15.2" text-anchor="middle" font-weight="normal" fill="#111" stroke="#111" stroke-width="0.2" transform="matrix(0.84,0,0,1,105.144,0)">0.30</text>
<text x="462.0" y="536.10" font-size="15.2" text-anchor="middle" font-weight="normal" fill="#111" stroke="#111" stroke-width="0.2" transform="matrix(0.84,0,0,1,73.920,0)">b1</text>
<text x="536.9" y="536.10" font-size="15.2" text-anchor="middle" font-weight="normal" fill="#111" stroke="#111" stroke-width="0.2" transform="matrix(0.84,0,0,1,85.904,0)">0.30</text>
<text x="599.95" y="536.10" font-size="15.2" text-anchor="middle" font-weight="normal" fill="#111" stroke="#111" stroke-width="0.2" transform="matrix(0.84,0,0,1,95.992,0)">0.35</text>
<text x="657.15" y="536.10" font-size="15.2" text-anchor="middle" font-weight="normal" fill="#111" stroke="#111" stroke-width="0.2" transform="matrix(0.84,0,0,1,105.144,0)">0.40</text>
<text x="462.0" y="554.55" font-size="15.2" text-anchor="middle" font-weight="normal" fill="#111" stroke="#111" stroke-width="0.2" transform="matrix(0.84,0,0,1,73.920,0)">b2</text>
<text x="536.9" y="554.55" font-size="15.2" text-anchor="middle" font-weight="normal" fill="#111" stroke="#111" stroke-width="0.2" transform="matrix(0.84,0,0,1,85.904,0)">0.95</text>
<text x="599.95" y="554.55" font-size="15.2" text-anchor="middle" font-weight="normal" fill="#111" stroke="#111" stroke-width="0.2" transform="matrix(0.84,0,0,1,95.992,0)">1</text>
<text x="657.15" y="554.55" font-size="15.2" text-anchor="middle" font-weight="normal" fill="#111" stroke="#111" stroke-width="0.2" transform="matrix(0.84,0,0,1,105.144,0)">1.05</text>
<text x="462.0" y="573.15" font-size="15.2" text-anchor="middle" font-weight="normal" fill="#111" stroke="#111" stroke-width="0.2" transform="matrix(0.84,0,0,1,73.920,0)">D</text>
<text x="594.1" y="573.15" font-size="15.2" text-anchor="middle" font-weight="normal" fill="#111" stroke="#111" stroke-width="0.2" transform="matrix(0.84,0,0,1,95.056,0)">2.5 BSC</text>
<text x="462.0" y="591.85" font-size="15.2" text-anchor="middle" font-weight="normal" fill="#111" stroke="#111" stroke-width="0.2" transform="matrix(0.84,0,0,1,73.920,0)">E</text>
<text x="594.1" y="591.85" font-size="15.2" text-anchor="middle" font-weight="normal" fill="#111" stroke="#111" stroke-width="0.2" transform="matrix(0.84,0,0,1,95.056,0)">2 BSC</text>
<text x="462.0" y="610.65" font-size="15.2" text-anchor="middle" font-weight="normal" fill="#111" stroke="#111" stroke-width="0.2" transform="matrix(0.84,0,0,1,73.920,0)">e</text>
<text x="594.1" y="610.65" font-size="15.2" text-anchor="middle" font-weight="normal" fill="#111" stroke="#111" stroke-width="0.2" transform="matrix(0.84,0,0,1,95.056,0)">0.5 BSC</text>
<text x="462.0" y="629.25" font-size="15.2" text-anchor="middle" font-weight="normal" fill="#111" stroke="#111" stroke-width="0.2" transform="matrix(0.84,0,0,1,73.920,0)">e1</text>
<text x="594.1" y="629.25" font-size="15.2" text-anchor="middle" font-weight="normal" fill="#111" stroke="#111" stroke-width="0.2" transform="matrix(0.84,0,0,1,95.056,0)">0.7 BSC</text>
<text x="462.0" y="648.20" font-size="15.2" text-anchor="middle" font-weight="normal" fill="#111" stroke="#111" stroke-width="0.2" transform="matrix(0.84,0,0,1,73.920,0)">L</text>
<text x="536.9" y="648.20" font-size="15.2" text-anchor="middle" font-weight="normal" fill="#111" stroke="#111" stroke-width="0.2" transform="matrix(0.84,0,0,1,85.904,0)">0.3</text>
<text x="599.95" y="648.20" font-size="15.2" text-anchor="middle" font-weight="normal" fill="#111" stroke="#111" stroke-width="0.2" transform="matrix(0.84,0,0,1,95.992,0)">0.35</text>
<text x="657.15" y="648.20" font-size="15.2" text-anchor="middle" font-weight="normal" fill="#111" stroke="#111" stroke-width="0.2" transform="matrix(0.84,0,0,1,105.144,0)">0.4</text>
<text x="462.0" y="667.25" font-size="15.2" text-anchor="middle" font-weight="normal" fill="#111" stroke="#111" stroke-width="0.2" transform="matrix(0.84,0,0,1,73.920,0)">L1</text>
<text x="536.9" y="667.25" font-size="15.2" text-anchor="middle" font-weight="normal" fill="#111" stroke="#111" stroke-width="0.2" transform="matrix(0.84,0,0,1,85.904,0)">0.25</text>
<text x="599.95" y="667.25" font-size="15.2" text-anchor="middle" font-weight="normal" fill="#111" stroke="#111" stroke-width="0.2" transform="matrix(0.84,0,0,1,95.992,0)">0.35</text>
<text x="657.15" y="667.25" font-size="15.2" text-anchor="middle" font-weight="normal" fill="#111" stroke="#111" stroke-width="0.2" transform="matrix(0.84,0,0,1,105.144,0)">0.45</text>
<text x="462.0" y="686.15" font-size="15.2" text-anchor="middle" font-weight="normal" fill="#111" stroke="#111" stroke-width="0.2" transform="matrix(0.84,0,0,1,73.920,0)">L2</text>
<text x="536.9" y="686.15" font-size="15.2" text-anchor="middle" font-weight="normal" fill="#111" stroke="#111" stroke-width="0.2" transform="matrix(0.84,0,0,1,85.904,0)">0.75</text>
<text x="599.95" y="686.15" font-size="15.2" text-anchor="middle" font-weight="normal" fill="#111" stroke="#111" stroke-width="0.2" transform="matrix(0.84,0,0,1,95.992,0)">0.8</text>
<text x="657.15" y="686.15" font-size="15.2" text-anchor="middle" font-weight="normal" fill="#111" stroke="#111" stroke-width="0.2" transform="matrix(0.84,0,0,1,105.144,0)">0.85</text>
<text x="462.0" y="704.90" font-size="15.2" text-anchor="middle" font-weight="normal" fill="#111" stroke="#111" stroke-width="0.2" transform="matrix(0.84,0,0,1,73.920,0)">L3</text>
<text x="594.1" y="704.90" font-size="15.2" text-anchor="middle" font-weight="normal" fill="#111" stroke="#111" stroke-width="0.2" transform="matrix(0.84,0,0,1,95.056,0)">0.18 REF</text>
<text x="462.0" y="724.05" font-size="15.2" text-anchor="middle" font-weight="normal" fill="#111" stroke="#111" stroke-width="0.2" transform="matrix(0.84,0,0,1,73.920,0)">aaa</text>
<text x="594.1" y="724.05" font-size="15.2" text-anchor="middle" font-weight="normal" fill="#111" stroke="#111" stroke-width="0.2" transform="matrix(0.84,0,0,1,95.056,0)">0.1</text>
<text x="462.0" y="743.15" font-size="15.2" text-anchor="middle" font-weight="normal" fill="#111" stroke="#111" stroke-width="0.2" transform="matrix(0.84,0,0,1,73.920,0)">ccc</text>
<text x="594.1" y="743.15" font-size="15.2" text-anchor="middle" font-weight="normal" fill="#111" stroke="#111" stroke-width="0.2" transform="matrix(0.84,0,0,1,95.056,0)">0.1</text>
<text x="462.0" y="762.05" font-size="15.2" text-anchor="middle" font-weight="normal" fill="#111" stroke="#111" stroke-width="0.2" transform="matrix(0.84,0,0,1,73.920,0)">eee</text>
<text x="594.1" y="762.05" font-size="15.2" text-anchor="middle" font-weight="normal" fill="#111" stroke="#111" stroke-width="0.2" transform="matrix(0.84,0,0,1,95.056,0)">0.05</text>
<text x="462.0" y="780.90" font-size="15.2" text-anchor="middle" font-weight="normal" fill="#111" stroke="#111" stroke-width="0.2" transform="matrix(0.84,0,0,1,73.920,0)">bbb</text>
<text x="594.1" y="780.90" font-size="15.2" text-anchor="middle" font-weight="normal" fill="#111" stroke="#111" stroke-width="0.2" transform="matrix(0.84,0,0,1,95.056,0)">0.1</text>
<text x="462.0" y="799.30" font-size="15.2" text-anchor="middle" font-weight="normal" fill="#111" stroke="#111" stroke-width="0.2" transform="matrix(0.84,0,0,1,73.920,0)">ddd</text>
<text x="594.1" y="799.30" font-size="15.2" text-anchor="middle" font-weight="normal" fill="#111" stroke="#111" stroke-width="0.2" transform="matrix(0.84,0,0,1,95.056,0)">0.05</text>
<text x="462.0" y="418.20" font-size="14" text-anchor="middle" font-weight="bold" fill="#111" stroke="#111" stroke-width="0.2" transform="matrix(0.91,0,0,1,41.580,0)">SYMBOL</text>
<text x="594.1" y="409.85" font-size="14" text-anchor="middle" font-weight="bold" fill="#111" stroke="#111" stroke-width="0.2" transform="matrix(0.91,0,0,1,53.469,0)">Unit: Millimeter</text>
<text x="536.9" y="427.35" font-size="14" text-anchor="middle" font-weight="bold" fill="#111" stroke="#111" stroke-width="0.2" transform="matrix(0.91,0,0,1,48.321,0)">MIN</text>
<text x="599.95" y="427.35" font-size="14" text-anchor="middle" font-weight="bold" fill="#111" stroke="#111" stroke-width="0.2" transform="matrix(0.91,0,0,1,53.995,0)">TYP</text>
<text x="657.15" y="427.35" font-size="14" text-anchor="middle" font-weight="bold" fill="#111" stroke="#111" stroke-width="0.2" transform="matrix(0.91,0,0,1,59.143,0)">MAX</text>
<line x1="418.8" y1="395.1" x2="683" y2="395.1" stroke="#111" stroke-width="1.3"/>
<line x1="505.2" y1="413.4" x2="683" y2="413.4" stroke="#111" stroke-width="1.3"/>
<line x1="418.8" y1="431.3" x2="683" y2="431.3" stroke="#111" stroke-width="1.3"/>
<line x1="418.8" y1="449.2" x2="683" y2="449.2" stroke="#111" stroke-width="1.3"/>
<line x1="418.8" y1="467.5" x2="683" y2="467.5" stroke="#111" stroke-width="1.3"/>
<line x1="418.8" y1="485.9" x2="683" y2="485.9" stroke="#111" stroke-width="1.3"/>
<line x1="418.8" y1="503.9" x2="683" y2="503.9" stroke="#111" stroke-width="1.3"/>
<line x1="418.8" y1="522.1" x2="683" y2="522.1" stroke="#111" stroke-width="1.3"/>
<line x1="418.8" y1="540.3" x2="683" y2="540.3" stroke="#111" stroke-width="1.3"/>
<line x1="418.8" y1="559.0" x2="683" y2="559.0" stroke="#111" stroke-width="1.3"/>
<line x1="418.8" y1="577.5" x2="683" y2="577.5" stroke="#111" stroke-width="1.3"/>
<line x1="418.8" y1="596.4" x2="683" y2="596.4" stroke="#111" stroke-width="1.3"/>
<line x1="418.8" y1="615.1" x2="683" y2="615.1" stroke="#111" stroke-width="1.3"/>
<line x1="418.8" y1="633.6" x2="683" y2="633.6" stroke="#111" stroke-width="1.3"/>
<line x1="418.8" y1="653.0" x2="683" y2="653.0" stroke="#111" stroke-width="1.3"/>
<line x1="418.8" y1="671.7" x2="683" y2="671.7" stroke="#111" stroke-width="1.3"/>
<line x1="418.8" y1="690.8" x2="683" y2="690.8" stroke="#111" stroke-width="1.3"/>
<line x1="418.8" y1="709.2" x2="683" y2="709.2" stroke="#111" stroke-width="1.3"/>
<line x1="418.8" y1="729.1" x2="683" y2="729.1" stroke="#111" stroke-width="1.3"/>
<line x1="418.8" y1="747.4" x2="683" y2="747.4" stroke="#111" stroke-width="1.3"/>
<line x1="418.8" y1="766.9" x2="683" y2="766.9" stroke="#111" stroke-width="1.3"/>
<line x1="418.8" y1="785.1" x2="683" y2="785.1" stroke="#111" stroke-width="1.3"/>
<line x1="418.8" y1="803.7" x2="683" y2="803.7" stroke="#111" stroke-width="1.3"/>
<line x1="505.2" y1="395.1" x2="505.2" y2="803.7" stroke="#111" stroke-width="1.5"/>
<line x1="568.6" y1="431.3" x2="568.6" y2="449.2" stroke="#111" stroke-width="1.5"/>
<line x1="631.3" y1="431.3" x2="631.3" y2="449.2" stroke="#111" stroke-width="1.5"/>
<line x1="568.6" y1="449.2" x2="568.6" y2="467.5" stroke="#111" stroke-width="1.5"/>
<line x1="631.3" y1="449.2" x2="631.3" y2="467.5" stroke="#111" stroke-width="1.5"/>
<line x1="568.6" y1="467.5" x2="568.6" y2="485.9" stroke="#111" stroke-width="1.5"/>
<line x1="631.3" y1="467.5" x2="631.3" y2="485.9" stroke="#111" stroke-width="1.5"/>
<line x1="568.6" y1="503.9" x2="568.6" y2="522.1" stroke="#111" stroke-width="1.5"/>
<line x1="631.3" y1="503.9" x2="631.3" y2="522.1" stroke="#111" stroke-width="1.5"/>
<line x1="568.6" y1="522.1" x2="568.6" y2="540.3" stroke="#111" stroke-width="1.5"/>
<line x1="631.3" y1="522.1" x2="631.3" y2="540.3" stroke="#111" stroke-width="1.5"/>
<line x1="568.6" y1="540.3" x2="568.6" y2="559.0" stroke="#111" stroke-width="1.5"/>
<line x1="631.3" y1="540.3" x2="631.3" y2="559.0" stroke="#111" stroke-width="1.5"/>
<line x1="568.6" y1="633.6" x2="568.6" y2="653.0" stroke="#111" stroke-width="1.5"/>
<line x1="631.3" y1="633.6" x2="631.3" y2="653.0" stroke="#111" stroke-width="1.5"/>
<line x1="568.6" y1="653.0" x2="568.6" y2="671.7" stroke="#111" stroke-width="1.5"/>
<line x1="631.3" y1="653.0" x2="631.3" y2="671.7" stroke="#111" stroke-width="1.5"/>
<line x1="568.6" y1="671.7" x2="568.6" y2="690.8" stroke="#111" stroke-width="1.5"/>
<line x1="631.3" y1="671.7" x2="631.3" y2="690.8" stroke="#111" stroke-width="1.5"/>
<line x1="568.6" y1="413.4" x2="568.6" y2="431.3" stroke="#111" stroke-width="1.5"/>
<line x1="631.3" y1="413.4" x2="631.3" y2="431.3" stroke="#111" stroke-width="1.5"/>
</g>
</svg>
</body></html>
